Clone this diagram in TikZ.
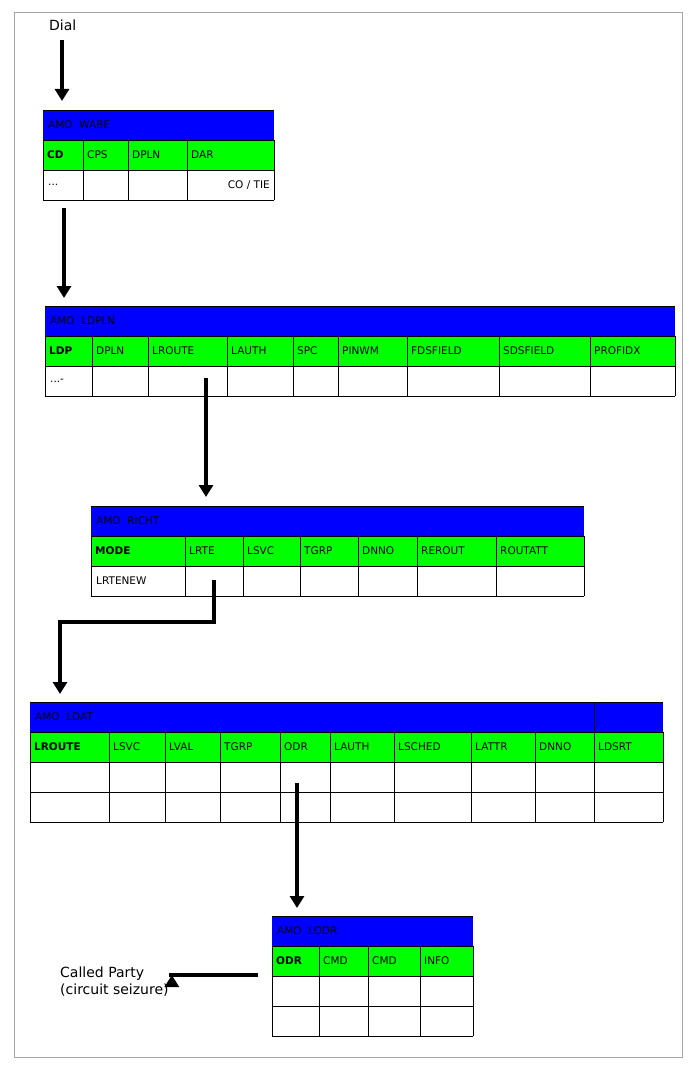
\documentclass[tikz,border=0pt]{standalone}
\usepackage{fontspec}
\setmainfont{DejaVu Sans}
\usetikzlibrary{arrows.meta}
\definecolor{hdr}{RGB}{0,0,255}
\definecolor{fld}{RGB}{0,255,0}
\tikzset{
 cell/.style={anchor=west,inner sep=0pt,font=\fontsize{10.5}{12}\selectfont},
 arr/.style={line width=4pt,-{Triangle[length=12pt,width=14pt]}},
 grid/.style={line width=0.8pt}
}
\newcommand\amotab[7]{% #1 name, #2 x0, #3 x1, #4 ytop, #5 header, #6 col/next/text list, #7 nrows
 \fill[hdr] (#2,#4) rectangle (#3,#4+30);
 \fill[fld] (#2,#4+30) rectangle (#3,#4+60);
 \node[cell] (#1) at (#2+5,#4+15) {#5};
 \foreach \a/\b/\t in {#6}{
   \node[cell] (#1-\a) at (\a+4,#4+45) {\t};
   \draw[grid] (\a,#4+30) -- (\a,#4+60+30*#7);
   \draw[grid] (\b,#4+30) -- (\b,#4+60+30*#7);
 }
 \draw[grid] (#2,#4) -- (#3,#4);
 \foreach \r in {0,...,#7}{\draw[grid] (#2,#4+30+30*\r) -- (#3,#4+30+30*\r);}
 \draw[grid] (#2,#4+60+30*#7) -- (#3,#4+60+30*#7);
}
\begin{document}
\begin{tikzpicture}[x=1pt,y=-1pt]
\useasboundingbox (0,0) rectangle (697,1075);
\draw[gray!70] (14,12) rectangle (682,1057);
\node[anchor=west,inner sep=0pt,font=\fontsize{14}{16}\selectfont] (dial) at (49,25) {Dial};
\amotab{wabe}{43}{274}{110}{AMO\ \ WABE}{43/83/\textbf{\rmfamily CD},83/128/CPS,128/187/DPLN,187/274/DAR}{1}
\node[cell,anchor=east] (cotie) at (270,185) {CO / TIE};
\node[cell] (wd) at (48,185) {...};
\amotab{ldpln}{45}{675}{306}{AMO\ \ LDPLN}{45/92/\textbf{LDP},92/148/DPLN,148/227/LROUTE,227/293/LAUTH,293/338/SPC,338/407/PINWM,407/499/FDSFIELD,499/590/SDSFIELD,590/675/PROFIDX}{1}
\node[cell] (ld) at (50,381) {...-};
\amotab{richt}{91}{584}{506}{AMO\ \ RICHT}{91/185/\textbf{MODE},185/243/LRTE,243/300/LSVC,300/358/TGRP,358/417/DNNO,417/496/REROUT,496/584/ROUTATT}{1}
\node[cell] (rl) at (96,581) {LRTENEW};
\amotab{ldat}{30}{663}{702}{AMO\ \ LDAT}{30/109/\textbf{LROUTE},109/165/LSVC,165/220/LVAL,220/280/TGRP,280/330/ODR,330/394/LAUTH,394/471/LSCHED,471/535/LATTR,535/594/DNNO,594/663/LDSRT}{2}
\draw[grid] (594,702) -- (594,732);
\amotab{lodr}{272}{473}{916}{AMO\ \ LODR}{272/319/\textbf{\rmfamily ODR},319/368/CMD,368/420/CMD,420/473/INFO}{2}
\node[anchor=west,align=left,inner sep=0pt,font=\fontsize{14}{17}\selectfont] (cp) at (60,982) {Called Party\\(circuit seizure)};
\coordinate (a1s) at (62,40); \coordinate (a1e) at (62,101);
\coordinate (a2s) at (64,208); \coordinate (a2e) at (64,298);
\coordinate (a3s) at (206,378); \coordinate (a3e) at (206,497);
\coordinate (a4s) at (214,580); \coordinate (a4m) at (214,622); \coordinate (a4n) at (60,622); \coordinate (a4e) at (60,694);
\coordinate (a5s) at (297,783); \coordinate (a5e) at (297,908);
\coordinate (a6s) at (258,975);
\draw[arr] (a1s) -- (a1e);
\draw[arr] (a2s) -- (a2e);
\draw[arr] (a3s) -- (a3e);
\draw[arr] (a4s) -- (a4m) -- (a4n) -- (a4e);
\draw[arr] (a5s) -- (a5e);
\draw[arr] (a6s) -- (cp.east|-a6s) ++(3,0);
\end{tikzpicture}
\end{document}
